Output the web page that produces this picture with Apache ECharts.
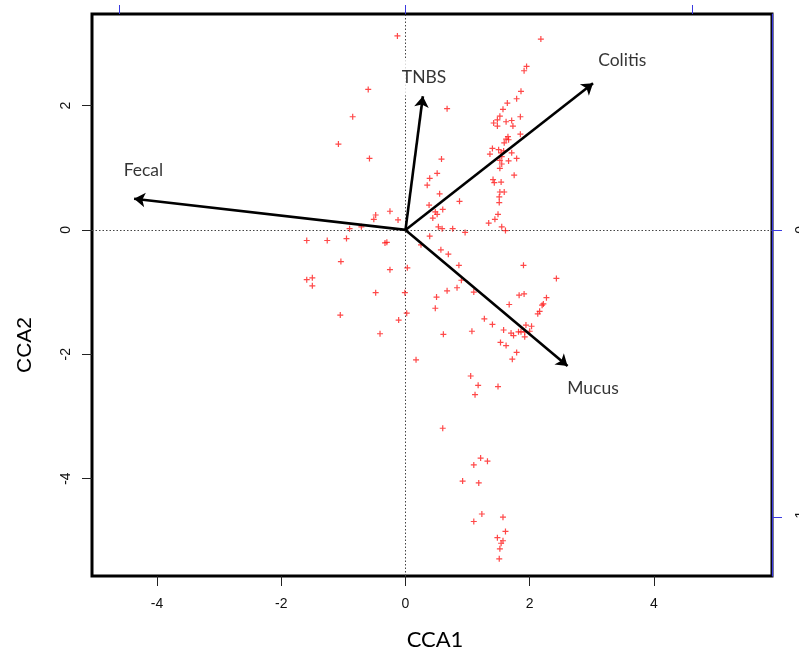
<!DOCTYPE html>
<html>
<head>
<meta charset="utf-8">
<title>CCA biplot</title>
<script src="https://cdn.jsdelivr.net/npm/echarts@6/dist/echarts.min.js"></script>
<style>
  html, body { margin: 0; padding: 0; background: #fff; }
  #chart { width: 799px; height: 651px; }
</style>
</head>
<body>
<div id="chart"></div>
<script>
// site scores [CCA1, CCA2]
const sites = [
  [-0.13, 3.12], [-0.60, 2.26], [-0.85, 1.82], [-1.08, 1.38], [-0.58, 1.15],
  [-0.48, 0.24], [-0.25, 0.30], [-0.51, 0.17], [-0.12, 0.16], [-0.90, 0.02],
  [-0.71, 0.05], [-1.59, -0.17], [-1.26, -0.17], [-0.95, -0.14], [-0.33, -0.21],
  [-0.30, -0.20], [-1.04, -0.51], [-0.25, -0.64], [-1.59, -0.80], [-1.50, -0.77],
  [-1.50, -0.90], [-0.48, -1.01], [-1.05, -1.37], [-0.11, -1.45], [0.03, -0.61],
  [-0.01, -1.01], [0.02, -1.34], [-0.41, -1.67], [0.17, -2.09],
  [2.18, 3.07], [1.95, 2.63], [1.91, 2.56], [1.86, 2.23], [1.79, 2.11],
  [1.64, 2.04], [1.57, 1.94], [0.67, 1.95], [1.52, 1.83], [1.85, 1.82],
  [1.48, 1.77], [1.42, 1.72], [1.62, 1.74], [1.71, 1.76], [1.73, 1.67],
  [1.48, 1.67], [1.65, 1.50], [1.62, 1.46], [1.66, 1.45], [1.85, 1.54],
  [1.59, 1.40], [1.40, 1.31], [1.50, 1.29], [1.58, 1.27], [1.54, 1.24],
  [1.36, 1.22], [1.71, 1.24], [1.55, 1.18], [1.52, 1.12], [1.66, 1.11],
  [1.79, 1.15], [1.55, 1.06], [1.52, 0.99], [0.58, 1.14], [0.51, 0.91],
  [1.75, 0.88], [0.39, 0.83], [1.41, 0.81], [1.43, 0.76], [1.54, 0.77],
  [0.35, 0.72], [0.55, 0.58], [1.52, 0.61], [1.59, 0.61], [1.51, 0.53],
  [0.87, 0.46], [1.51, 0.44], [0.38, 0.40], [0.48, 0.29], [0.51, 0.25],
  [0.60, 0.33], [1.49, 0.25], [1.44, 0.17], [0.44, 0.19], [1.34, 0.11],
  [0.53, 0.05], [0.59, 0.02], [0.76, 0.02], [1.55, 0.05],
  [0.96, -0.04], [1.61, -0.01], [0.39, -0.10], [0.25, -0.24], [0.57, -0.32],
  [0.69, -0.39], [0.86, -0.57], [1.90, -0.57], [2.43, -0.78], [0.90, -0.81],
  [0.83, -0.93], [0.67, -0.98], [1.10, -1.00], [1.83, -1.05], [1.91, -1.03],
  [0.50, -1.08], [2.27, -1.09], [1.67, -1.20], [2.22, -1.19], [2.20, -1.21],
  [0.48, -1.26], [2.16, -1.31], [2.13, -1.35], [1.27, -1.43], [1.40, -1.52],
  [1.94, -1.53], [2.03, -1.55], [1.58, -1.61], [1.70, -1.66], [1.74, -1.70],
  [1.82, -1.64], [1.86, -1.64], [1.92, -1.64], [1.92, -1.72], [2.00, -1.63],
  [1.07, -1.63], [0.61, -1.68], [1.53, -1.81], [1.62, -1.86], [1.79, -1.97],
  [1.72, -2.08],
  [1.05, -2.35], [1.17, -2.50], [1.49, -2.52], [1.12, -2.65], [0.60, -3.19],
  [1.21, -3.67], [1.32, -3.72], [1.10, -3.78], [0.92, -4.04], [1.18, -4.07],
  [1.23, -4.57], [1.57, -4.62], [1.10, -4.69], [1.61, -4.85], [1.48, -4.95],
  [1.57, -5.00], [1.54, -5.04], [1.52, -5.13], [1.51, -5.29]
];

// environmental biplot arrows
const envNames = ['Fecal', 'TNBS', 'Colitis', 'Mucus'];
const envCCA1 = [-4.37, 0.28, 3.02, 2.61];
const envCCA2 = [0.50, 2.15, 2.36, -2.19];
const labelCCA1 = [-4.22, 0.30, 3.49, 3.02];
const labelCCA2 = [0.95, 2.45, 2.72, -2.55];

const xTicks = [-4, -2, 0, 2, 4];
const yTicks = [-4, -2, 0, 2];
const topTicks = [-1, 0, 1];
const rightTicks = [-1, 0];

const chart = echarts.init(document.getElementById('chart'));

const plusSymbol = 'path://M4,0H6V4H10V6H6V10H4V6H0V4H4Z';
const tickLabel = { color: '#111', fontSize: 14, fontFamily: '"Liberation Sans", Arial, sans-serif' };
const blue = '#3a3ae0';

chart.setOption({
  animation: false,
  backgroundColor: '#fff',
  grid: {
    left: 92, right: 27, top: 14, bottom: 75,
    outerBoundsMode: 'none',
    show: true, borderColor: '#000', borderWidth: 3, z: 0
  },
  xAxis: [
    {
      type: 'value', position: 'bottom', min: -5.048, max: 5.902,
      splitLine: { show: false },
      axisLine: { show: false, onZero: false },
      axisTick: { show: true, length: 10, customValues: xTicks, lineStyle: { color: '#222', width: 1 } },
      axisLabel: Object.assign({ customValues: xTicks, margin: 21 }, tickLabel)
    },
    {
      type: 'value', position: 'top', min: -1.094, max: 1.279, z: 6,
      splitLine: { show: false },
      axisLine: { show: false, onZero: false },
      axisTick: { show: true, length: 9, customValues: topTicks, lineStyle: { color: blue, width: 1 } },
      axisLabel: { show: false }
    }
  ],
  yAxis: [
    {
      type: 'value', position: 'left', min: -5.567, max: 3.473,
      splitLine: { show: false },
      axisLine: { show: false, onZero: false },
      axisTick: { show: true, length: 10, customValues: yTicks, lineStyle: { color: '#222', width: 1 } },
      axisLabel: Object.assign({ customValues: yTicks, margin: 19, rotate: 90 }, tickLabel)
    },
    {
      type: 'value', position: 'right', min: -1.2055, max: 0.752, z: 6,
      splitLine: { show: false },
      axisLine: { show: true, onZero: false, lineStyle: { color: blue, width: 1.2 } },
      axisTick: { show: true, length: 10, customValues: rightTicks, lineStyle: { color: blue, width: 1 } },
      axisLabel: Object.assign({ customValues: rightTicks, margin: 22, rotate: 90 }, tickLabel)
    }
  ],
  graphic: [
    {
      type: 'text', x: 435, y: 640,
      style: { text: 'CCA1', font: '22px Lato, "Open Sans", sans-serif', fill: '#000', align: 'center', verticalAlign: 'middle' }
    },
    {
      type: 'text', x: 25, y: 345, rotation: Math.PI / 2,
      style: { text: 'CCA2', font: '21px "Liberation Sans", Arial, sans-serif', fill: '#000', align: 'center', verticalAlign: 'middle' }
    }
  ],
  series: [
    {
      type: 'scatter',
      data: sites,
      symbol: plusSymbol,
      symbolSize: 6,
      itemStyle: { color: '#ff1a1a' },
      z: 3,
      markLine: {
        silent: true,
        symbol: 'none',
        label: { show: false },
        lineStyle: { color: '#444', width: 1, type: [1.5, 2] },
        data: [{ xAxis: 0 }, { yAxis: 0 }],
        z: 1
      }
    },
    {
      type: 'lines',
      coordinateSystem: 'cartesian2d',
      data: envNames.map((n, i) => ({ name: n, coords: [[0, 0], [envCCA1[i], envCCA2[i]]] })),
      symbol: ['none', 'arrow'],
      symbolSize: 11,
      lineStyle: { color: '#000', width: 2.6, opacity: 1 },
      z: 5
    },
    {
      type: 'scatter',
      data: envNames.map((n, i) => ({
        name: n,
        value: [labelCCA1[i], labelCCA2[i]],
        label: n === 'TNBS' ? { backgroundColor: '#fff', padding: [10, 2, 8, 2] } : {}
      })),
      symbolSize: 0,
      z: 4,
      label: {
        show: true, position: 'inside', formatter: '{b}',
        color: '#000', fontSize: 17.5, fontFamily: 'Lato, "Open Sans", sans-serif'
      }
    }
  ]
});
</script>
</body>
</html>
